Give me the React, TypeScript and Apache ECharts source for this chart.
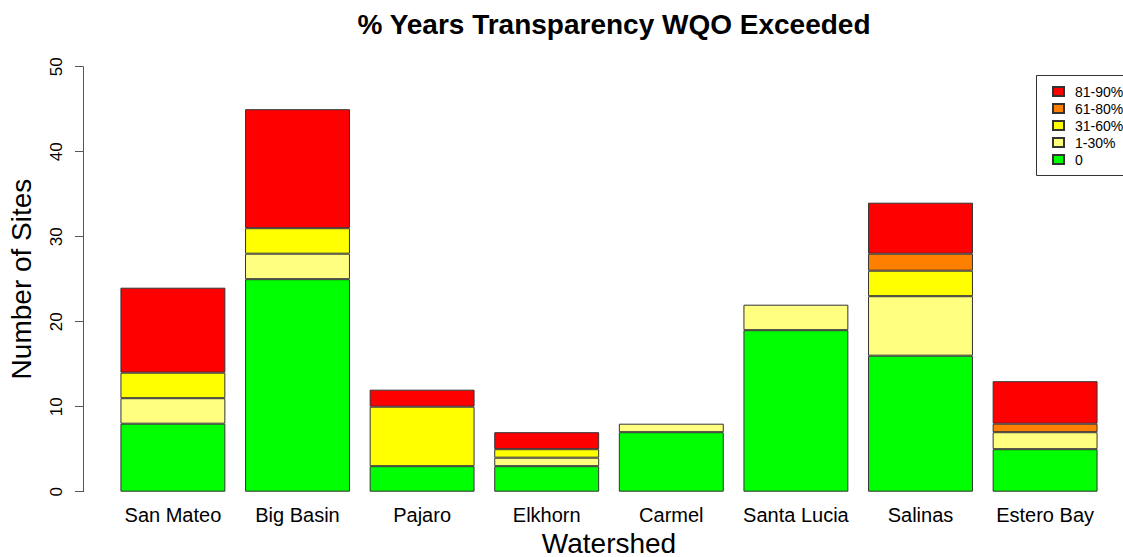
import React, { useEffect, useRef } from "react";
import * as echarts from "echarts";

const categories = ["San Mateo", "Big Basin", "Pajaro", "Elkhorn", "Carmel", "Santa Lucia", "Salinas", "Estero Bay"];
const zero = [8, 25, 3, 3, 7, 19, 16, 5];
const pct1to30 = [3, 3, 0, 1, 1, 3, 7, 2];
const pct31to60 = [3, 3, 7, 1, 0, 0, 3, 0];
const pct61to80 = [0, 0, 0, 0, 0, 0, 2, 1];
const pct81to90 = [10, 14, 2, 2, 0, 0, 6, 5];
const yTicks = [0, 10, 20, 30, 40, 50];

const seriesDefs = [
  { name: "0", data: zero, color: "#00FF00" },
  { name: "1-30%", data: pct1to30, color: "#FFFF80" },
  { name: "31-60%", data: pct31to60, color: "#FFFF00" },
  { name: "61-80%", data: pct61to80, color: "#FF8000" },
  { name: "81-90%", data: pct81to90, color: "#FF0000" },
];

const FONT = "Liberation Sans, Arial, sans-serif";

export default function App() {
  const ref = useRef<HTMLDivElement>(null);
  useEffect(() => {
    if (!ref.current) return;
    const chart = echarts.init(ref.current, null, { renderer: "svg" });
    chart.setOption({
      animation: false,
      backgroundColor: "#ffffff",
      title: {
        text: "% Years Transparency WQO Exceeded",
        left: 609,
        top: 5,
        textAlign: "center",
        textStyle: { fontFamily: FONT, fontSize: 28, fontWeight: "bold", color: "#000" },
      },
      legend: {
        orient: "vertical",
        left: 1047,
        top: 78,
        itemWidth: 11,
        itemHeight: 9,
        itemGap: 0,
        icon: "rect",
        data: ["81-90%", "61-80%", "31-60%", "1-30%", "0"],
        textStyle: { fontFamily: FONT, fontSize: 14, color: "#000", lineHeight: 17, padding: [0, 0, 0, 6] },
      },
      grid: { left: 110.6, right: 15.6, top: 66.7, bottom: 65.3 },
      xAxis: {
        type: "category",
        data: categories,
        axisLine: { show: false },
        axisTick: { show: false },
        axisLabel: { fontFamily: FONT, fontSize: 20, color: "#000", margin: 13, interval: 0, hideOverlap: false },
      },
      yAxis: {
        type: "value",
        min: 0,
        max: 50,
        interval: 10,
        offset: 27.6,
        axisLine: { show: true, lineStyle: { color: "#555", width: 1 } },
        axisTick: { show: true, length: 8, lineStyle: { color: "#555" } },
        splitLine: { show: false },
        axisLabel: {
          fontFamily: FONT,
          fontSize: 17,
          color: "#000",
          rotate: 90,
          margin: 18,
          customValues: yTicks,
        },
      },
      graphic: [
        {
          type: "text",
          x: 609,
          y: 543,
          style: { text: "Watershed", fontFamily: FONT, fontSize: 28, fill: "#000", align: "center", verticalAlign: "middle" },
        },
        {
          type: "text",
          x: 21,
          y: 279,
          rotation: Math.PI / 2,
          style: { text: "Number of Sites", fontFamily: FONT, fontSize: 28, fill: "#000", align: "center", verticalAlign: "middle" },
        },
        {
          type: "rect",
          shape: { x: 1036.5, y: 75.5, width: 90, height: 100 },
          style: { fill: "none", stroke: "#333", lineWidth: 1 },
        },
      ],
      series: seriesDefs.map((s) => ({
        name: s.name,
        type: "bar",
        stack: "total",
        barCategoryGap: "15.8%",
        data: s.data.map((v) => (v === 0 ? null : v)),
        itemStyle: { color: s.color, borderColor: "#333", borderWidth: 1 },
      })),
    });
    return () => chart.dispose();
  }, []);
  return <div ref={ref} style={{ position: "absolute", left: 0, top: 0, width: 1123, height: 557 }} />;
}
